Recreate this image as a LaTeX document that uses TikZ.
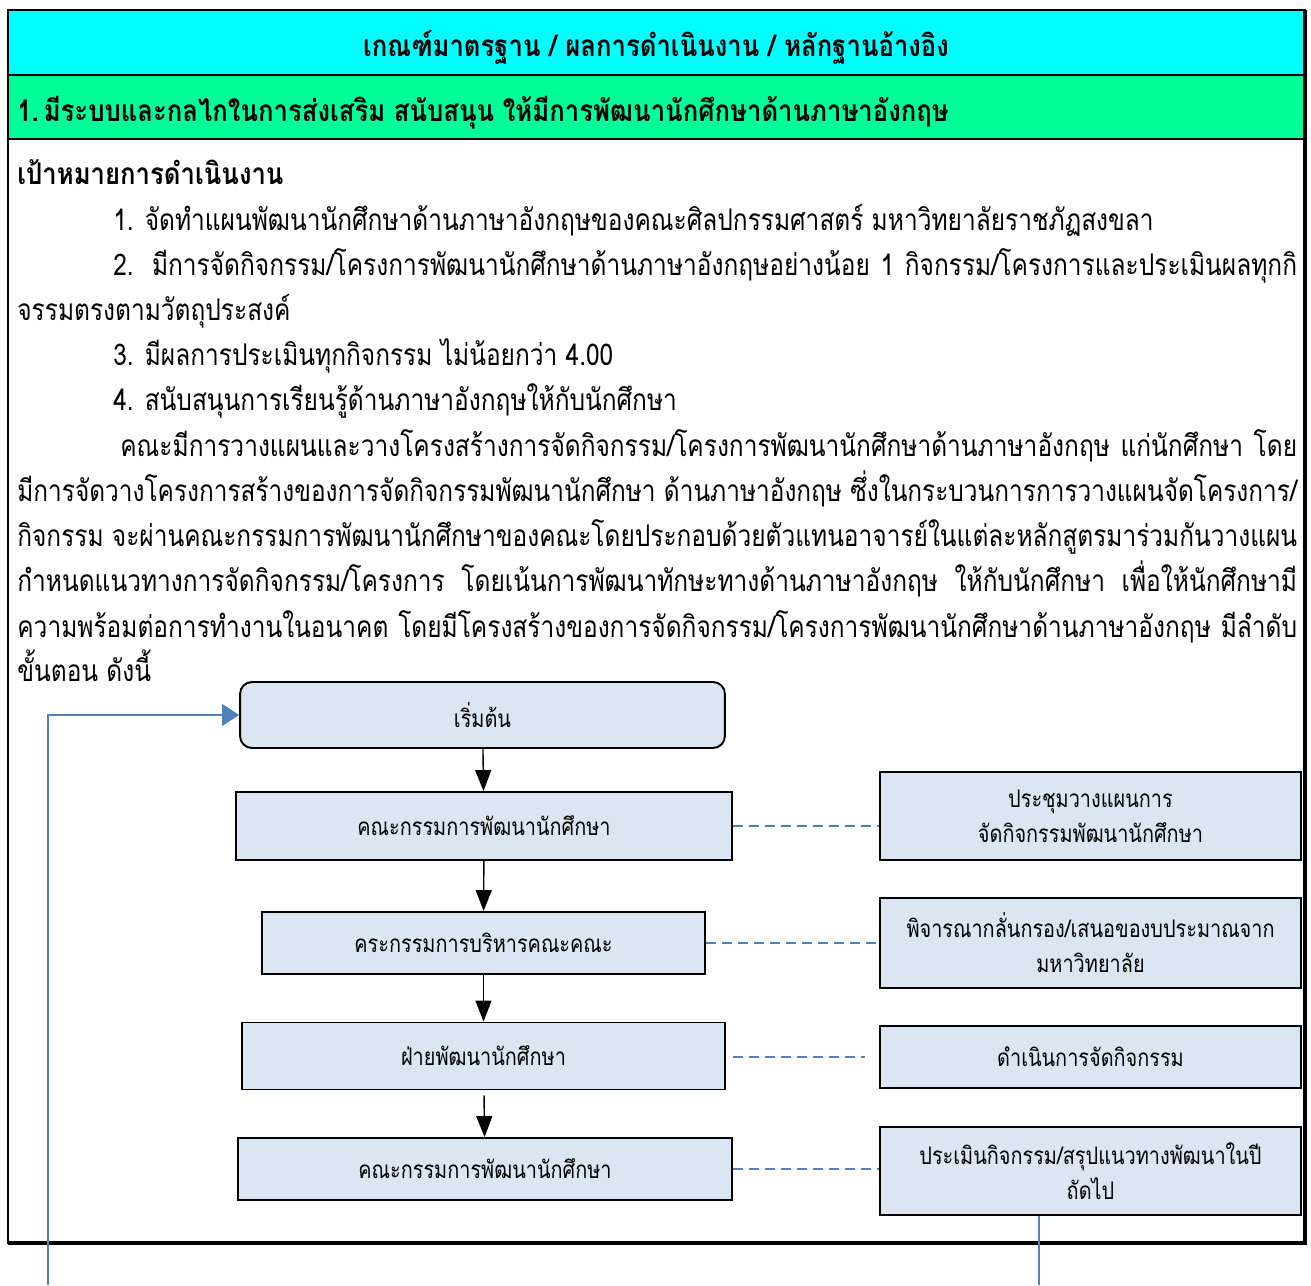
\documentclass[tikz,border=0pt]{standalone}
\usepackage{fontspec}
\usepackage{graphicx}
\setmainfont[Script = Thai, FakeStretch = 0.82, BoldFeatures = {FakeStretch = 0.86}]{Loma}
\usetikzlibrary{arrows.meta, positioning}

\definecolor{headcyan}{HTML}{00FFFF}
\definecolor{headgreen}{HTML}{00FF99}
\definecolor{boxblue}{HTML}{DCE6F2}
\definecolor{linkblue}{HTML}{4F81BD}

\tikzset{
	bodytext/.style = {inner sep = 0pt, anchor = base west, font = \fontsize{17pt}{20pt}\selectfont},
	headtext/.style = {inner sep = 0pt, font = \bfseries\fontsize{17pt}{20pt}\selectfont},
	flowbox/.style = {draw, line width = 1.1pt, fill = boxblue, inner sep = 2pt, align = center, font = \fontsize{13.8pt}{20pt}\selectfont},
	flowarrow/.style = {-{Triangle[length = 0.42cm, width = 0.32cm]}, line width = 0.8pt},
	linkline/.style = {draw = linkblue, line width = 1.1pt, dash pattern = on 0.2cm off 0.12cm},
	loopline/.style = {draw = linkblue, line width = 0.9pt}
}

% justified line: spread the spaces, or squeeze if too long
\newcommand{\justline}[2]{%
	\sbox0{#2}%
	\ifdim\wd0>#1\relax
		\scalebox{\fpeval{(#1)/(\the\wd0)}}[1]{\usebox0}%
	\else
		\makebox[#1][s]{#2}%
	\fi}

\begin{document}
\begin{tikzpicture}[x = 0.02cm, y = -0.02cm]

	\useasboundingbox (0, 0) rectangle (1311, 1285);

	% Table

	\fill [headcyan] (8, 10) rectangle (1305, 75);
	\fill [headgreen] (8, 75) rectangle (1305, 139);
	\draw [line width = 0.9pt] (8, 75) -- (1305, 75);
	\draw [line width = 0.9pt] (8, 139) -- (1305, 139);
	\draw [line width = 1.2pt] (8, 10) rectangle (1305, 1243);
	\draw [line width = 1.8pt] (1305, 10) -- (1305, 1243) -- (8, 1243);

	\node [headtext] (title) at (656, 47) {เกณฑ์มาตรฐาน / ผลการดำเนินงาน / หลักฐานอ้างอิง};
	\node [headtext, anchor = west] (topic) at (17, 113) {1.\hspace{0.1cm}มีระบบและกลไกในการส่งเสริม สนับสนุน ให้มีการพัฒนานักศึกษาด้านภาษาอังกฤษ};

	% Goals

	\node [bodytext, font = \bfseries\fontsize{17pt}{20pt}\selectfont] (goal) at (17, 184) {เป้าหมายการดำเนินงาน};
	\node [bodytext] (goal1) at (113, 230) {1. จัดทำแผนพัฒนานักศึกษาด้านภาษาอังกฤษของคณะศิลปกรรมศาสตร์ มหาวิทยาลัยราชภัฏสงขลา};
	\node [bodytext] (goal2) at (113, 275) {\justline{23.68cm}{2. มีการจัดกิจกรรม/โครงการพัฒนานักศึกษาด้านภาษาอังกฤษอย่างน้อย 1 กิจกรรม/โครงการและประเมินผลทุกกิ}};
	\node [bodytext] (goal2b) at (17, 320) {จรรมตรงตามวัตถุประสงค์};
	\node [bodytext] (goal3) at (113, 365) {3. มีผลการประเมินทุกกิจกรรม ไม่น้อยกว่า 4.00};
	\node [bodytext] (goal4) at (113, 410) {4. สนับสนุนการเรียนรู้ด้านภาษาอังกฤษให้กับนักศึกษา};

	% Paragraph

	\node [bodytext] (par1) at (120, 456) {\justline{23.54cm}{คณะมีการวางแผนและวางโครงสร้างการจัดกิจกรรม/โครงการพัฒนานักศึกษาด้านภาษาอังกฤษ แก่นักศึกษา โดย}};
	\node [bodytext] (par2) at (17, 501) {\justline{25.6cm}{มีการจัดวางโครงการสร้างของการจัดกิจกรรมพัฒนานักศึกษา ด้านภาษาอังกฤษ ซึ่งในกระบวนการการวางแผนจัดโครงการ/}};
	\node [bodytext] (par3) at (17, 546) {\justline{25.6cm}{กิจกรรม จะผ่านคณะกรรมการพัฒนานักศึกษาของคณะโดยประกอบด้วยตัวแทนอาจารย์ในแต่ละหลักสูตรมาร่วมกันวางแผน}};
	\node [bodytext] (par4) at (17, 591) {\justline{25.6cm}{กำหนดแนวทางการจัดกิจกรรม/โครงการ โดยเน้นการพัฒนาทักษะทางด้านภาษาอังกฤษ ให้กับนักศึกษา เพื่อให้นักศึกษามี}};
	\node [bodytext] (par5) at (17, 637) {\justline{25.6cm}{ความพร้อมต่อการทำงานในอนาคต โดยมีโครงสร้างของการจัดกิจกรรม/โครงการพัฒนานักศึกษาด้านภาษาอังกฤษ มีลำดับ}};
	\node [bodytext] (par6) at (17, 681) {ขั้นตอน ดังนี้};

	% Flow

	\node [flowbox, rounded corners = 0.24cm, minimum width = 9.7cm, minimum height = 1.32cm] (start) at (482.5, 715) {เริ่มต้น};
	\node [flowbox, minimum width = 9.92cm, minimum height = 1.36cm] (board) at (484, 826) {คณะกรรมการพัฒนานักศึกษา};
	\node [flowbox, minimum width = 8.86cm, minimum height = 1.24cm] (exec) at (483.5, 943) {คระกรรมการบริหารคณะคณะ};
	\node [flowbox, minimum width = 9.66cm, minimum height = 1.34cm] (affairs) at (483.5, 1056) {ฝ่ายพัฒนานักศึกษา};
	\node [flowbox, minimum width = 9.88cm, minimum height = 1.24cm] (review) at (485, 1169) {คณะกรรมการพัฒนานักศึกษา};

	% Notes

	\node [flowbox, minimum width = 8.42cm, minimum height = 1.76cm] (plan) at (1090.5, 816) {ประชุมวางแผนการ\\จัดกิจกรรมพัฒนานักศึกษา};
	\node [flowbox, minimum width = 8.42cm, minimum height = 1.8cm] (budget) at (1090.5, 943) {พิจารณากลั่นกรอง/เสนอของบประมาณจาก\\มหาวิทยาลัย};
	\node [flowbox, minimum width = 8.42cm, minimum height = 1.24cm] (run) at (1090.5, 1057) {ดำเนินการจัดกิจกรรม};
	\node [flowbox, minimum width = 8.42cm, minimum height = 1.76cm] (assess) at (1090.5, 1171) {ประเมินกิจกรรม/สรุปแนวทางพัฒนาในปี\\ถัดไป};

	% Arrows

	\draw [flowarrow] (start) -- (board);
	\draw [flowarrow] (board) -- (exec);
	\draw [flowarrow] (exec) -- (affairs);
	\draw [flowarrow, shorten <= 0.1cm] (affairs) -- (review);

	\draw [linkline] (board.east) -- (board.east -| plan.west);
	\draw [linkline] (exec.east) -- (exec.east -| budget.west);
	\draw [linkline, shorten <= 0.14cm, shorten >= 0.28cm] (run.west -| affairs.east) -- (run.west);
	\draw [linkline] (review.east) -- (review.east -| assess.west);

	% Loop

	\coordinate (loopR) at (1039, 1285);
	\coordinate (loopL) at (48, 1285);
	\draw [loopline] (assess.south -| loopR) -- (loopR);
	\draw [loopline, -{Triangle[length = 0.34cm, width = 0.44cm]}] (loopL) |- (start.west);

\end{tikzpicture}
\end{document}
